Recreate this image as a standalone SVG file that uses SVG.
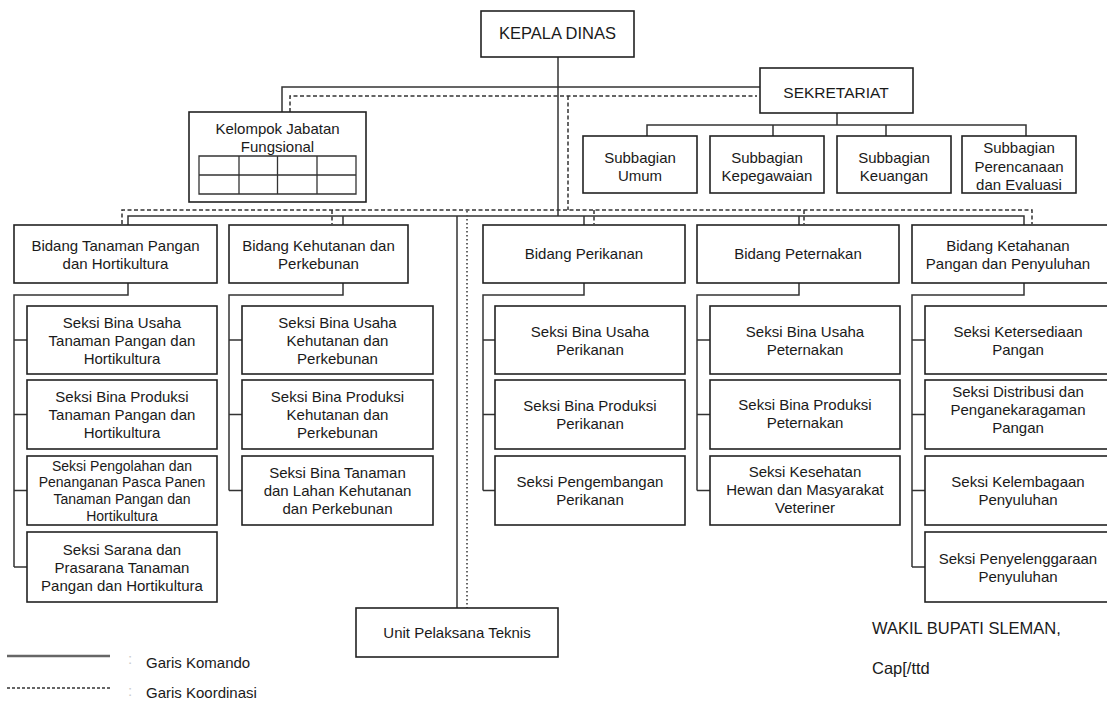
<svg xmlns="http://www.w3.org/2000/svg" width="1107" height="701" viewBox="0 0 1107 701">
<style>
.bx{fill:#fff;stroke:#222;stroke-width:1.6}
.ln{stroke:#333;stroke-width:1.5;fill:none}
.ds{stroke:#333;stroke-width:1.5;stroke-dasharray:4 2.5;fill:none}
.dt{stroke:#555;stroke-width:1.8;stroke-dasharray:1.6 2.4;fill:none}
text{font-family:"Liberation Sans",Arial,sans-serif;font-size:15px;fill:#1a1a1a;text-anchor:middle;dominant-baseline:central}
.sm{font-size:14px}
.lg{font-size:16.5px}
.st{text-anchor:start}
</style>
<rect width="1107" height="701" fill="#fff"/>
<g id="connectors">
<path class="ln" d="M558 57V216M282 112V87H760M128 225V216H1024V225M343 216V225M584 216V225M799 216V225M457 216V608"/>
<path class="ln" d="M837 113V125M647 136V125H1026V136M773 125V136M886 125V136"/>
<path class="ln" d="M128 283V295H14V567M14 340H27M14 414.5H27M14 490.5H27M14 567H27"/>
<path class="ln" d="M343 283V295H229V490.5M229 340H242M229 414.5H242M229 490.5H242"/>
<path class="ln" d="M584 283V295H483V490.5M483 340H495M483 414.5H495M483 490.5H495"/>
<path class="ln" d="M799 283V295H697V490.5M697 340H710M697 414.5H710M697 490.5H710"/>
<path class="ln" d="M1024 283V295H912V567M912 340H925M912 414.5H925M912 490.5H925M912 567H925"/>
<path class="ds" d="M290 112V96H757M568 96V210M122 224V210H1032V224M332 210V224M594 210V224M804 210V224"/>
<path class="dt" d="M467 211V608"/>
</g>
<g id="kepala"><rect class="bx" x="481" y="11" width="153" height="46"/><text class="lg" x="557.5" y="33">KEPALA DINAS</text></g>
<g id="sekretariat"><rect class="bx" x="760" y="68" width="153" height="45"/><text x="836" y="92" style="font-size:15.5px">SEKRETARIAT</text></g>
<g id="kelompok"><rect class="bx" x="189" y="112" width="177" height="90"/><text x="277.5" y="128">Kelompok Jabatan</text><text x="277.5" y="146">Fungsional</text>
<path class="ln" style="stroke-width:1.3" d="M199 156H356V194H199ZM199 175H356M239 156V194M277.5 156V194M317 156V194"/></g>
<g id="sub-umum"><rect class="bx" x="583" y="136" width="114" height="57"/><text x="640" y="157">Subbagian</text><text x="640" y="175">Umum</text></g>
<g id="sub-kepegawaian"><rect class="bx" x="710" y="136" width="114" height="57"/><text x="767" y="157">Subbagian</text><text x="767" y="175">Kepegawaian</text></g>
<g id="sub-keuangan"><rect class="bx" x="837" y="136" width="114" height="57"/><text x="894" y="157">Subbagian</text><text x="894" y="175">Keuangan</text></g>
<g id="sub-perencanaan"><rect class="bx" x="962" y="136" width="114" height="57"/><text x="1019" y="147">Subbagian</text><text x="1019" y="166">Perencanaan</text><text x="1019" y="184">dan Evaluasi</text></g>
<g id="bidang-tanaman"><rect class="bx" x="14" y="225" width="203" height="58"/><text x="115.5" y="245">Bidang Tanaman Pangan</text><text x="115.5" y="263">dan Hortikultura</text></g>
<g id="tan-1"><rect class="bx" x="27" y="306" width="190" height="68"/><text x="122" y="322">Seksi Bina Usaha</text><text x="122" y="340">Tanaman Pangan dan</text><text x="122" y="358">Hortikultura</text></g>
<g id="tan-2"><rect class="bx" x="27" y="380" width="190" height="69"/><text x="122" y="396.5">Seksi Bina Produksi</text><text x="122" y="414.5">Tanaman Pangan dan</text><text x="122" y="432.5">Hortikultura</text></g>
<g id="tan-3"><rect class="bx" x="27" y="456" width="190" height="69"/><text class="sm" x="122" y="465.5">Seksi Pengolahan dan</text><text class="sm" x="122" y="482.2">Penanganan Pasca Panen</text><text class="sm" x="122" y="498.9">Tanaman Pangan dan</text><text class="sm" x="122" y="515.6">Hortikultura</text></g>
<g id="tan-4"><rect class="bx" x="27" y="532" width="190" height="70"/><text x="122" y="549">Seksi Sarana dan</text><text x="122" y="567">Prasarana Tanaman</text><text x="122" y="585">Pangan dan Hortikultura</text></g>
<g id="bidang-kehutanan"><rect class="bx" x="229" y="225" width="179" height="58"/><text x="318.5" y="245">Bidang Kehutanan dan</text><text x="318.5" y="263">Perkebunan</text></g>
<g id="keh-1"><rect class="bx" x="242" y="306" width="191" height="68"/><text x="337.5" y="322">Seksi Bina Usaha</text><text x="337.5" y="340">Kehutanan dan</text><text x="337.5" y="358">Perkebunan</text></g>
<g id="keh-2"><rect class="bx" x="242" y="380" width="191" height="69"/><text x="337.5" y="396.5">Seksi Bina Produksi</text><text x="337.5" y="414.5">Kehutanan dan</text><text x="337.5" y="432.5">Perkebunan</text></g>
<g id="keh-3"><rect class="bx" x="242" y="456" width="191" height="69"/><text x="337.5" y="472.5">Seksi Bina Tanaman</text><text x="337.5" y="490.5">dan Lahan Kehutanan</text><text x="337.5" y="508.5">dan Perkebunan</text></g>
<g id="bidang-perikanan"><rect class="bx" x="483" y="225" width="202" height="58"/><text x="584" y="253">Bidang Perikanan</text></g>
<g id="per-1"><rect class="bx" x="495" y="306" width="190" height="68"/><text x="590" y="331">Seksi Bina Usaha</text><text x="590" y="349">Perikanan</text></g>
<g id="per-2"><rect class="bx" x="495" y="380" width="190" height="69"/><text x="590" y="405.5">Seksi Bina Produksi</text><text x="590" y="423.5">Perikanan</text></g>
<g id="per-3"><rect class="bx" x="495" y="456" width="190" height="69"/><text x="590" y="481.5">Seksi Pengembangan</text><text x="590" y="499.5">Perikanan</text></g>
<g id="bidang-peternakan"><rect class="bx" x="697" y="225" width="202" height="58"/><text x="798" y="253">Bidang Peternakan</text></g>
<g id="pet-1"><rect class="bx" x="710" y="306" width="190" height="68"/><text x="805" y="331">Seksi Bina Usaha</text><text x="805" y="349">Peternakan</text></g>
<g id="pet-2"><rect class="bx" x="710" y="380" width="190" height="69"/><text x="805" y="404">Seksi Bina Produksi</text><text x="805" y="422">Peternakan</text></g>
<g id="pet-3"><rect class="bx" x="710" y="456" width="190" height="69"/><text x="805" y="471">Seksi Kesehatan</text><text x="805" y="489">Hewan dan Masyarakat</text><text x="805" y="507">Veteriner</text></g>
<g id="bidang-ketahanan"><rect class="bx" x="912" y="225" width="203" height="58"/><text x="1008" y="245">Bidang Ketahanan</text><text x="1008" y="263">Pangan dan Penyuluhan</text></g>
<g id="ket-1"><rect class="bx" x="925" y="306" width="190" height="68"/><text x="1018" y="331">Seksi Ketersediaan</text><text x="1018" y="349">Pangan</text></g>
<g id="ket-2"><rect class="bx" x="925" y="380" width="190" height="69"/><text x="1018" y="391">Seksi Distribusi dan</text><text x="1018" y="409">Penganekaragaman</text><text x="1018" y="427">Pangan</text></g>
<g id="ket-3"><rect class="bx" x="925" y="456" width="190" height="69"/><text x="1018" y="481">Seksi Kelembagaan</text><text x="1018" y="499">Penyuluhan</text></g>
<g id="ket-4"><rect class="bx" x="925" y="532" width="190" height="70"/><text x="1018" y="558">Seksi Penyelenggaraan</text><text x="1018" y="576">Penyuluhan</text></g>
<g id="upt"><rect class="bx" x="356" y="608" width="202" height="49"/><text x="457" y="632">Unit Pelaksana Teknis</text></g>
<g id="legend">
<line x1="7" y1="656" x2="110" y2="656" stroke="#666" stroke-width="2.5"/>
<line x1="7" y1="688" x2="110" y2="688" stroke="#666" stroke-width="2" stroke-dasharray="3 2"/>
<text class="st" x="128" y="658" style="fill:#ccc">:</text>
<text class="st" x="128" y="690" style="fill:#ccc">:</text>
<text class="st" x="146" y="662">Garis Komando</text>
<text class="st" x="146" y="692">Garis Koordinasi</text>
</g>
<g id="signature">
<text class="st lg" x="872" y="628">WAKIL BUPATI SLEMAN,</text>
<text class="st lg" x="872" y="668">Cap[/ttd</text>
</g>
</svg>
